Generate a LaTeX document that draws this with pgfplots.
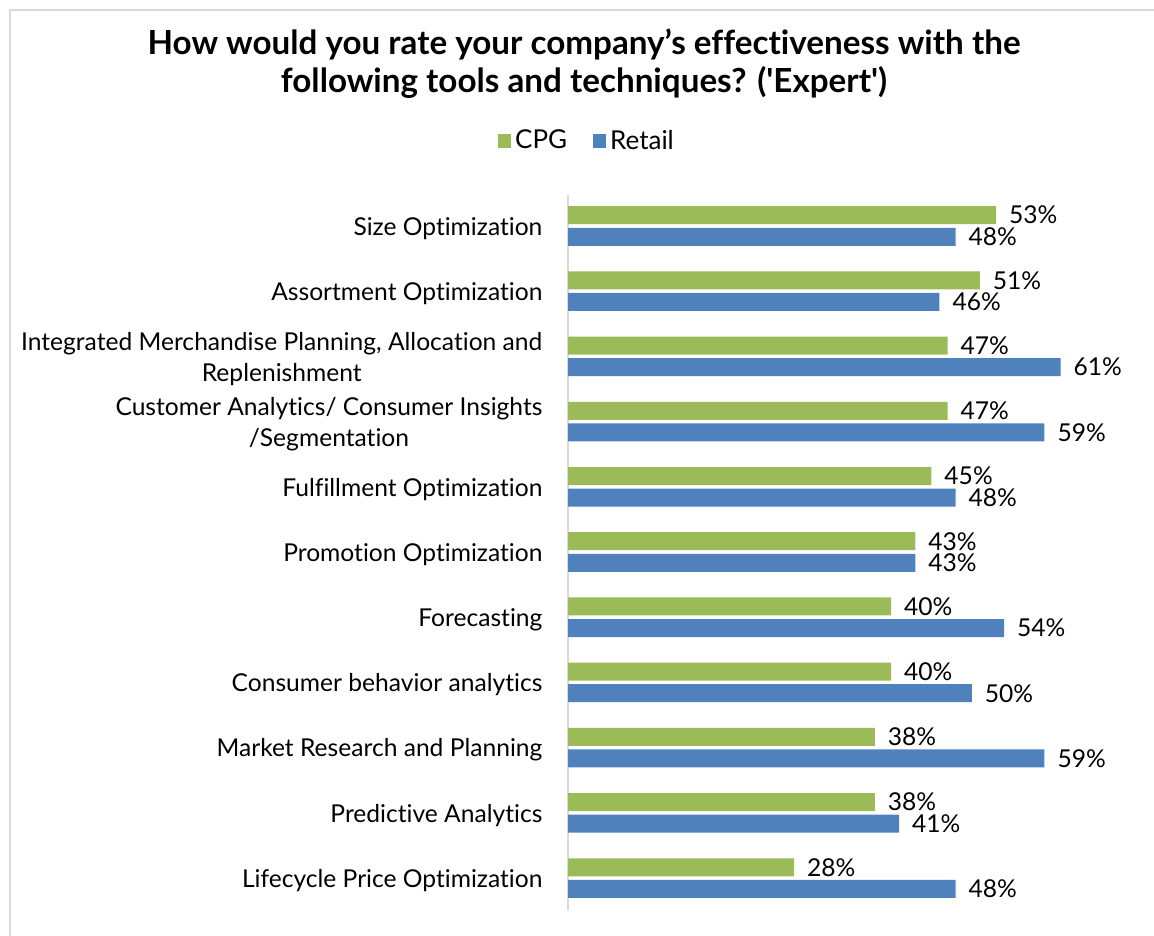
\documentclass[border=0pt]{standalone}
\usepackage{pgfplots}
\pgfplotsset{compat=1.18}
\usepackage{fontspec}
\setmainfont{Lato}[Ligatures={NoCommon}]
\definecolor{cpg}{HTML}{9BBB59}
\definecolor{retail}{HTML}{4F81BD}
\definecolor{frame}{HTML}{D9D9D9}
\begin{document}
\begin{tikzpicture}
\useasboundingbox (0,0) rectangle (577pt,-467.5pt);
\draw[frame, line width=1pt] (5pt,-600pt) -- (5pt,-5pt) -- (700pt,-5pt);
\node[font=\bfseries\fontsize{16.6}{19}\selectfont, align=center] at (292pt,-32pt)
  {How would you rate your company’s effectiveness with the\\following tools and techniques? (\textquotesingle Expert\textquotesingle)};
\begin{axis}[
  at={(284pt,-97.5pt)}, anchor=north west,
  scale only axis, width=266.5pt, height=357.5pt,
  xbar, bar width=9pt,
  xmin=0, xmax=66,
  ymin=-0.475, ymax=10.49, y dir=reverse,
  axis x line=none,
  axis y line*=left,
  y axis line style={frame, line width=1pt, -},
  ytick={0,...,10},
  ytick style={draw=none},
  yticklabels={Size Optimization, Assortment Optimization, {Integrated Merchandise Planning, Allocation and\\Replenishment}, {Customer Analytics/ Consumer Insights\\/Segmentation}, Fulfillment Optimization, Promotion Optimization, Forecasting, Consumer behavior analytics, Market Research and Planning, Predictive Analytics, Lifecycle Price Optimization},
  yticklabel style={font=\fontsize{12.3}{15.5}\selectfont, align=center, xshift=-5pt, yshift=-1.2pt},
  nodes near coords={\pgfmathprintnumber[assume math mode=true]{\pgfplotspointmeta}\%},
  point meta=x,
  every node near coord/.append style={font=\fontsize{12.3}{14}\selectfont, anchor=west, xshift=3pt},
  legend style={at={(0.0375,1.0755)}, anchor=center, draw=none, legend columns=2, font=\fontsize{13}{15}\selectfont,
    /tikz/every even column/.append style={column sep=11pt}},
  legend image code/.code={\fill[#1] (0pt,-3.3pt) rectangle (6.5pt,3.3pt);},
]
\addplot[draw=none, fill=cpg, bar shift=5.4pt] coordinates {(53,0) (51,1) (47,2) (47,3) (45,4) (43,5) (40,6) (40,7) (38,8) (38,9) (28,10)};
\addlegendentry{CPG}
\addplot[draw=none, fill=retail, bar shift=-5.4pt] coordinates {(48,0) (46,1) (61,2) (59,3) (48,4) (43,5) (54,6) (50,7) (59,8) (41,9) (48,10)};
\addlegendentry{Retail}
\end{axis}
\end{tikzpicture}
\end{document}
